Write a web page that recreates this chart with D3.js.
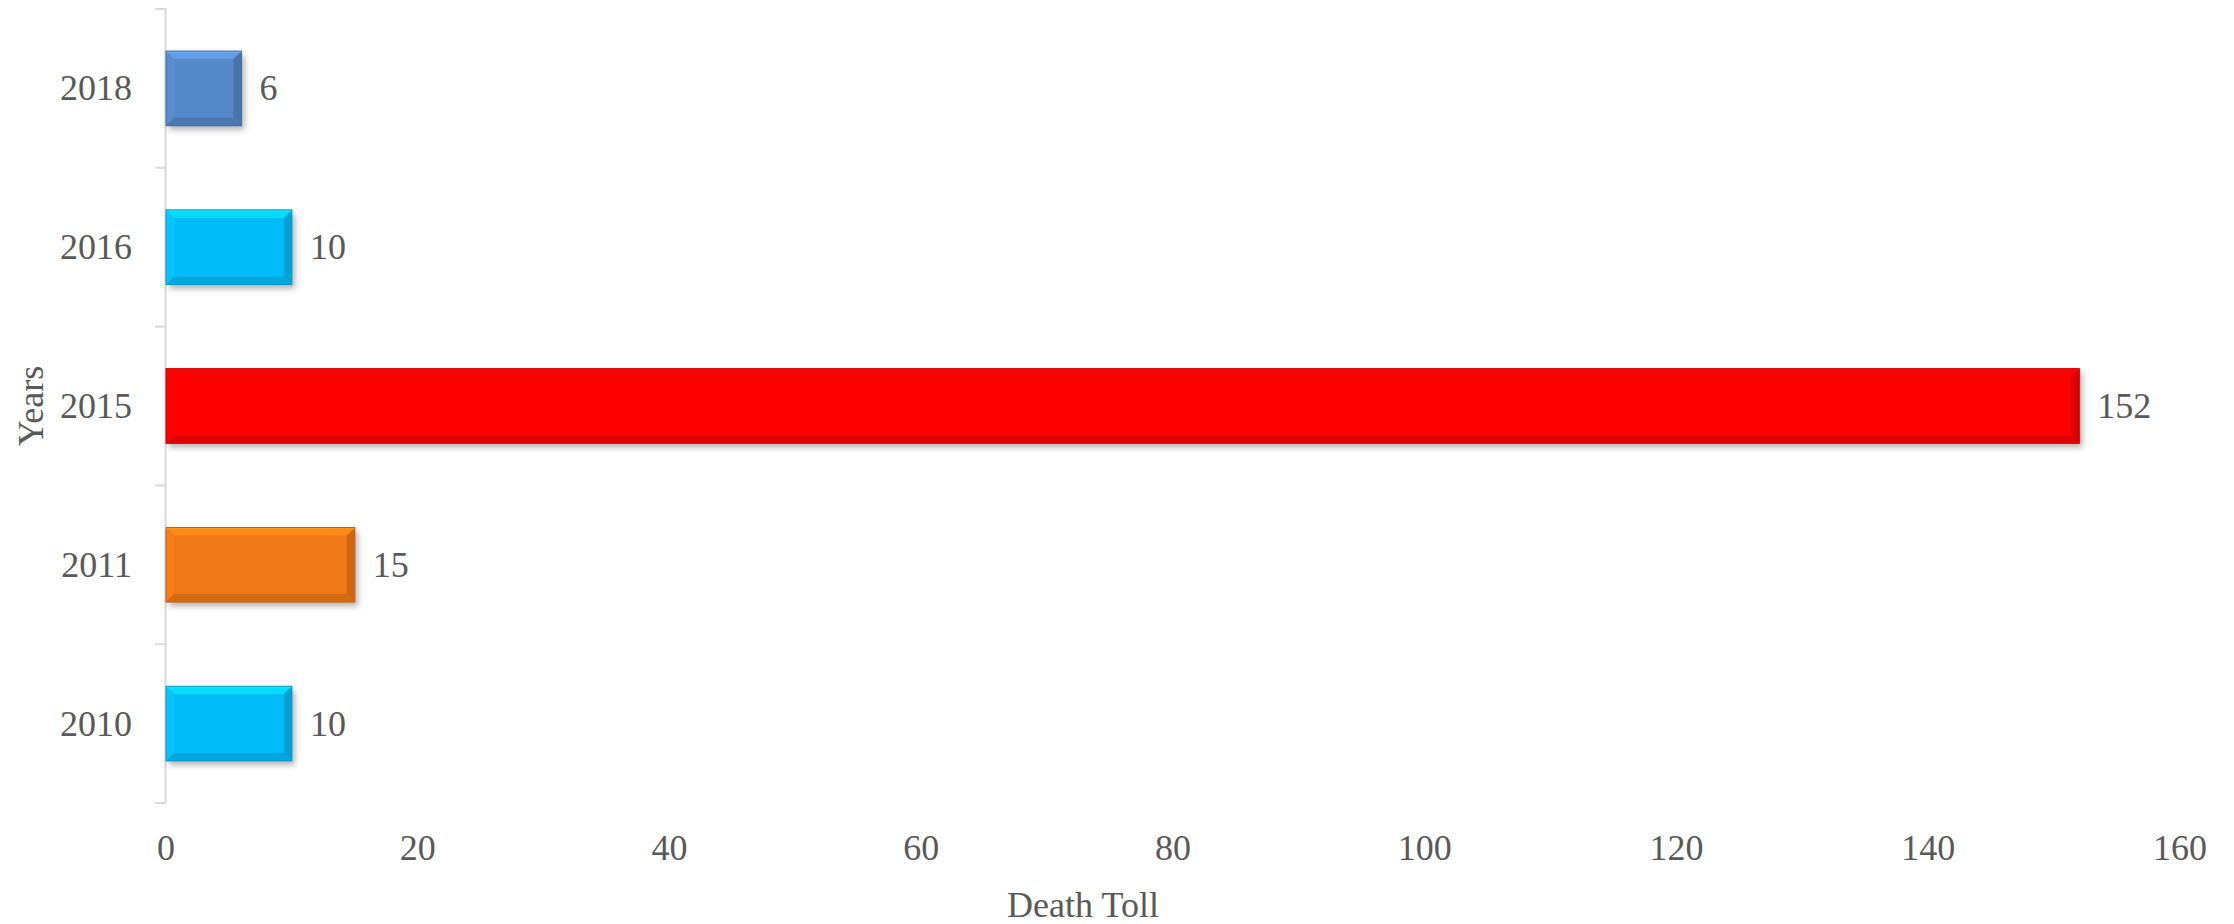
<!DOCTYPE html>
<html>
<head>
<meta charset="utf-8">
<script src="https://cdn.jsdelivr.net/npm/d3@7"></script>
<style>
  html, body { margin: 0; padding: 0; background: #fff; }
  svg text { font-family: "Liberation Serif", "Times New Roman", serif; fill: #595959; }
</style>
</head>
<body>
<svg id="chart" width="2234" height="924"></svg>
<script>
// ---- data ----
const years = ["2010", "2011", "2015", "2016", "2018"];
const deaths = [10, 15, 152, 10, 6];
const barColors = ["#05BDF9", "#F07814", "#FE0000", "#05BDF9", "#5588C8"];
const xTicks = [0, 20, 40, 60, 80, 100, 120, 140, 160];
const xTitle = "Death Toll";
const yTitle = "Years";

// ---- layout ----
const W = 2234, H = 924;
const margin = { left: 166, right: 54, top: 9, bottom: 121 };
const svg = d3.select("#chart");

const x = d3.scaleLinear().domain([0, 160]).range([margin.left, W - margin.right]);
const y = d3.scaleBand().domain(years.slice().reverse())
  .range([margin.top, H - margin.bottom]).paddingInner(0.53).paddingOuter(0.265);

const defs = svg.append("defs");
const f = defs.append("filter").attr("id", "shadow")
  .attr("x", "-5%").attr("y", "-20%").attr("width", "120%").attr("height", "160%");
f.append("feDropShadow").attr("dx", 3).attr("dy", 4).attr("stdDeviation", 3)
  .attr("flood-color", "#000").attr("flood-opacity", 0.3);

// y axis line and category boundary ticks
const grid = "#D9D9D9";
svg.append("line").attr("x1", x(0) - 0.5).attr("x2", x(0) - 0.5)
  .attr("y1", margin.top).attr("y2", H - margin.bottom)
  .attr("stroke", grid).attr("stroke-width", 2);
const bounds = d3.range(years.length + 1).map(i => margin.top + i * y.step());
svg.selectAll("line.tk").data(bounds).join("line").attr("class", "tk")
  .attr("x1", x(0) - 11).attr("x2", x(0))
  .attr("y1", d => d).attr("y2", d => d)
  .attr("stroke", grid).attr("stroke-width", 2);

// y tick labels
svg.selectAll("text.ylab").data(years).join("text").attr("class", "ylab")
  .attr("x", 132).attr("y", d => y(d) + y.bandwidth() / 2 + 12)
  .attr("text-anchor", "end").attr("font-size", 36).text(d => d);

// x tick labels
svg.selectAll("text.xlab").data(xTicks).join("text").attr("class", "xlab")
  .attr("x", d => x(d)).attr("y", 860)
  .attr("text-anchor", "middle").attr("font-size", 36).text(d => d);

// bars with bevel
const rows = years.map((yr, i) => ({ yr, v: deaths[i], c: barColors[i] }));
const bev = 8;
const g = svg.selectAll("g.bar").data(rows).join("g").attr("class", "bar");
g.each(function (d) {
  const sel = d3.select(this);
  const x0 = x(0), x1 = x(d.v), y0 = y(d.yr), y1 = y0 + y.bandwidth();
  const base = d3.color(d.c);
  sel.append("rect").attr("x", x0).attr("y", y0).attr("width", x1 - x0).attr("height", y1 - y0)
    .attr("fill", d.c).attr("filter", "url(#shadow)");
  const b = Math.min(bev, (x1 - x0) / 2);
  const poly = (pts, col) => sel.append("polygon")
    .attr("points", pts.map(p => p.join(",")).join(" ")).attr("fill", col);
  // top
  poly([[x0, y0], [x1, y0], [x1 - b, y0 + b], [x0 + b, y0 + b]], base.brighter(0.4).formatHex());
  // left
  poly([[x0, y0], [x0 + b, y0 + b], [x0 + b, y1 - b], [x0, y1]], base.brighter(0.1).formatHex());
  // right
  poly([[x1, y0], [x1, y1], [x1 - b, y1 - b], [x1 - b, y0 + b]], base.darker(0.45).formatHex());
  // bottom
  poly([[x0, y1], [x0 + b, y1 - b], [x1 - b, y1 - b], [x1, y1]], base.darker(0.35).formatHex());
  // thin top highlight line
  sel.append("line").attr("x1", x0).attr("x2", x1).attr("y1", y0 + 1).attr("y2", y0 + 1)
    .attr("stroke", base.brighter(0.6).formatHex()).attr("stroke-width", 2);
  // outline
  sel.append("rect").attr("x", x0).attr("y", y0).attr("width", x1 - x0).attr("height", y1 - y0)
    .attr("fill", "none").attr("stroke", base.darker(0.6).formatHex()).attr("stroke-width", 1);
  // value label
  sel.append("text").attr("x", x1 + 18).attr("y", (y0 + y1) / 2 + 12)
    .attr("font-size", 36).text(d.v);
});

// axis titles
svg.append("text").attr("x", 1083).attr("y", 917).attr("text-anchor", "middle")
  .attr("font-size", 36).text(xTitle);
svg.append("text").attr("transform", `translate(43,${406}) rotate(-90)`)
  .attr("text-anchor", "middle").attr("font-size", 36).text(yTitle);
</script>
</body>
</html>
